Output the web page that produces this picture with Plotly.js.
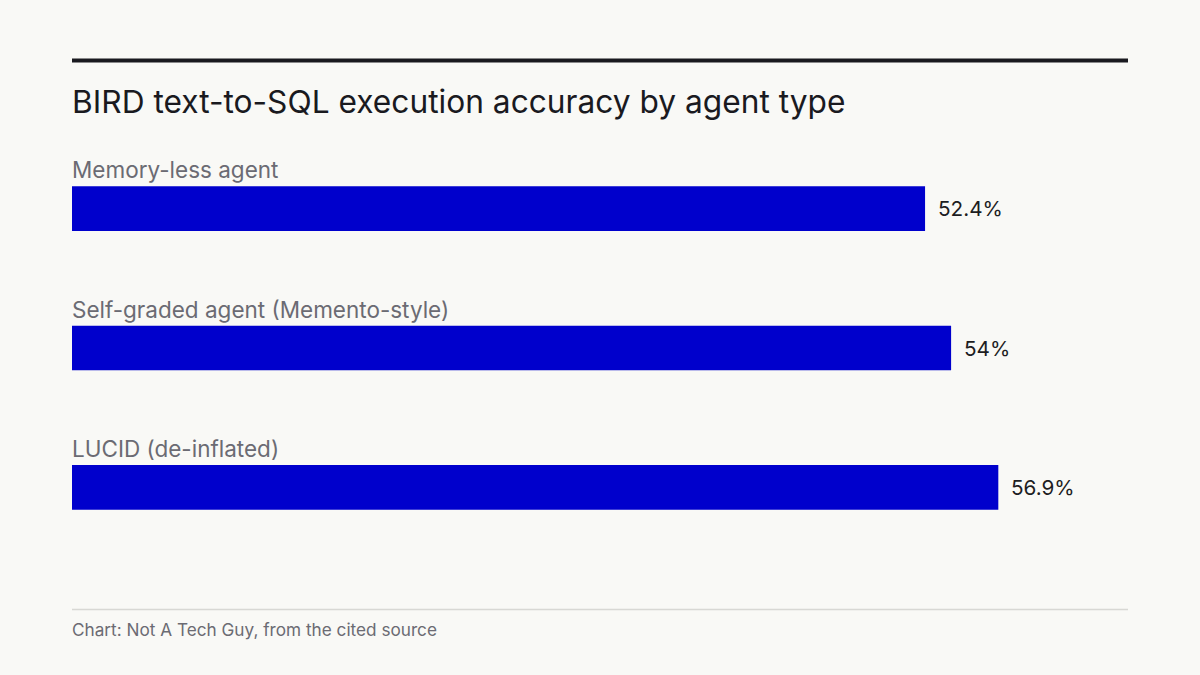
<!DOCTYPE html>
<html>
<head>
<meta charset="utf-8">
<script src="https://cdn.plot.ly/plotly-3.0.1.min.js"></script>
<style>
  html, body { margin: 0; padding: 0; background: #f9f9f6; }
  #chart { width: 1200px; height: 675px; }
</style>
</head>
<body>
<div id="chart"></div>
<script>
var agents = ['Memory-less agent', 'Self-graded agent (Memento-style)', 'LUCID (de-inflated)'];
var accuracy = [52.4, 54, 56.9];
var valueLabels = ['52.4%', '54%', '56.9%'];

var W = 1200, H = 675;
var plotTop = 139, plotBottom = 557;
var FONT = 'Inter, Liberation Sans, Arial, sans-serif';
function py(pixelY) {
    return (plotBottom - pixelY) / (plotBottom - plotTop);
}

var bars = {
    type: 'bar',
    orientation: 'h',
    x: accuracy,
    y: agents,
    width: 0.32,
    marker: {color: '#0000cc'},
    hoverinfo: 'skip'
};

var annotations = [];
for (var i = 0; i < agents.length; i++) {
    annotations.push({
        x: 0, y: agents[i], xref: 'x', yref: 'y',
        text: agents[i], showarrow: false,
        xanchor: 'left', yanchor: 'middle', yshift: 39, xshift: -2,
        font: {family: FONT, size: 22.5, color: '#6b6b73'}
    });
    annotations.push({
        x: accuracy[i], y: agents[i], xref: 'x', yref: 'y',
        text: valueLabels[i], showarrow: false,
        xanchor: 'left', yanchor: 'middle', xshift: 11,
        font: {family: FONT, size: 20.7, color: '#1d1d22'}
    });
}
annotations.push({
    x: 0, y: py(629), xref: 'paper', yref: 'paper',
    text: 'Chart: Not A Tech Guy, from the cited source', showarrow: false,
    xanchor: 'left', yanchor: 'middle', xshift: -2,
    font: {family: FONT, size: 17.2, color: '#6b6b73'}
});

var layout = {
    width: W,
    height: H,
    paper_bgcolor: '#f9f9f6',
    plot_bgcolor: '#f9f9f6',
    showlegend: false,
    margin: {l: 72, r: 72, t: plotTop, b: H - plotBottom, pad: 0},
    title: {
        text: 'BIRD text-to-SQL execution accuracy by agent type',
        x: 0, xref: 'paper', xanchor: 'left',
        y: 1 - 102 / H, yref: 'container', yanchor: 'middle',
        font: {family: FONT, size: 31.7, color: '#1a1a1f'}
    },
    xaxis: {
        range: [0, Math.max.apply(null, accuracy) * 1.14],
        visible: false,
        fixedrange: true
    },
    yaxis: {
        type: 'category',
        autorange: 'reversed',
        visible: false,
        fixedrange: true
    },
    shapes: [
        {type: 'line', xref: 'paper', yref: 'paper', x0: 0, x1: 1, y0: py(60.5), y1: py(60.5),
         line: {color: '#1a1a1f', width: 4}},
        {type: 'line', xref: 'paper', yref: 'paper', x0: 0, x1: 1, y0: py(609.5), y1: py(609.5),
         line: {color: '#d8d8d4', width: 1.5}}
    ],
    annotations: annotations
};

Plotly.newPlot('chart', [bars], layout, {displayModeBar: false, staticPlot: true});
</script>
</body>
</html>
